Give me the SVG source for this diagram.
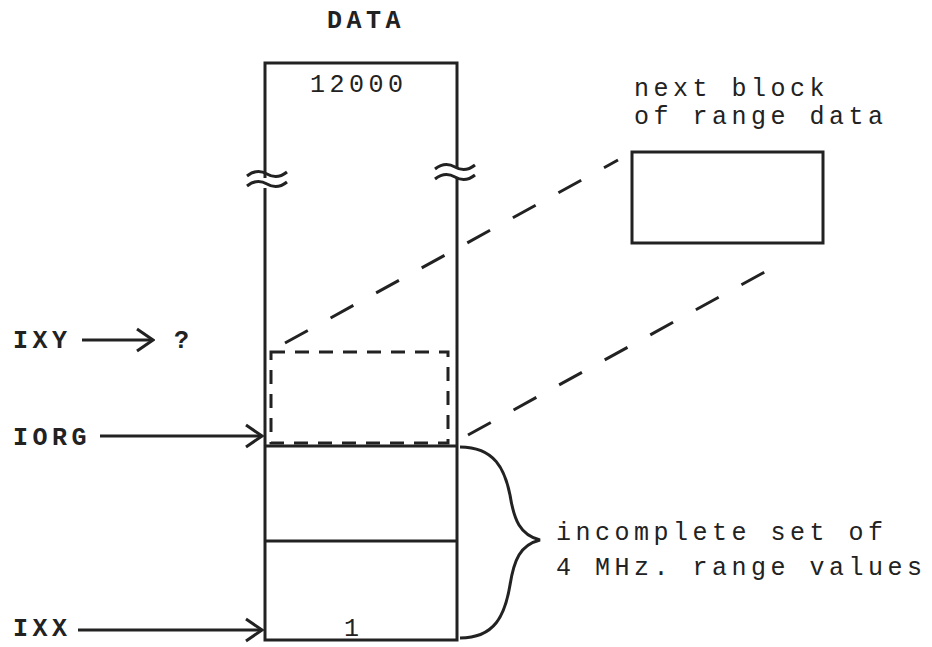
<svg xmlns="http://www.w3.org/2000/svg" width="932" height="647" viewBox="0 0 932 647">
<style>
text{font-family:"Liberation Mono","Courier New",monospace;font-size:25px;fill:#222;letter-spacing:4.5px}
.b{font-weight:bold}
.s{stroke:#222;stroke-width:3;fill:none}
.d{stroke:#222;stroke-width:3;fill:none;stroke-dasharray:26 26}
.dr{stroke:#222;stroke-width:3;fill:none;stroke-dasharray:14 10}
</style>
<defs>
<marker id="ah" markerWidth="20" markerHeight="26" refX="18" refY="13" orient="auto" markerUnits="userSpaceOnUse">
<path d="M2,2 L18,13 L2,24" fill="none" stroke="#222" stroke-width="3"/>
</marker>
</defs>
<rect width="932" height="647" fill="#fff"/>
<g id="data-column">
<text x="327" y="28" class="b">DATA</text>
<path class="s" d="M265,178 V63 H457 V168"/>
<path class="s" d="M265,188 V640 H457 V178"/>
<path class="s" d="M247,176 q10,-8 20,-2 t20,-2"/>
<path class="s" d="M247,186 q10,-8 20,-2 t20,-2"/>
<path class="s" d="M435,169 q10,-8 20,-2 t20,-2"/>
<path class="s" d="M435,179 q10,-8 20,-2 t20,-2"/>
<text x="310" y="92">12000</text>
<line class="s" x1="265" y1="446" x2="457" y2="446"/>
<line class="s" x1="265" y1="541" x2="457" y2="541"/>
<text x="344" y="636">1</text>
</g>
<g id="dashed-block">
<rect class="dr" x="271" y="352" width="177" height="91"/>
</g>
<g id="next-block">
<rect class="s" x="632" y="152" width="191" height="91"/>
<text x="634" y="96">next block</text>
<text x="634" y="124">of range data</text>
</g>
<g id="labels">
<text x="13" y="348" class="b">IXY</text>
<text x="174" y="348" class="b">?</text>
<text x="13" y="445" class="b">IORG</text>
<text x="13" y="636" class="b">IXX</text>
<text x="556" y="540">incomplete set of</text>
<text x="556" y="575">4 MHz. range values</text>
</g>
<g id="connectors">
<line class="s" x1="82" y1="340" x2="153" y2="340" marker-end="url(#ah)"/>
<line class="s" x1="100" y1="436" x2="262" y2="436" marker-end="url(#ah)"/>
<line class="s" x1="78" y1="630" x2="262" y2="630" marker-end="url(#ah)"/>
<line class="d" x1="285" y1="343" x2="618" y2="160"/>
<line class="d" x1="468" y1="435" x2="781" y2="263"/>
<path class="s" d="M460,447 C495,447 505,470 510,495 C514,520 520,535 540,540 C520,545 514,560 510,585 C505,615 495,638 460,638"/>
</g>
</svg>
